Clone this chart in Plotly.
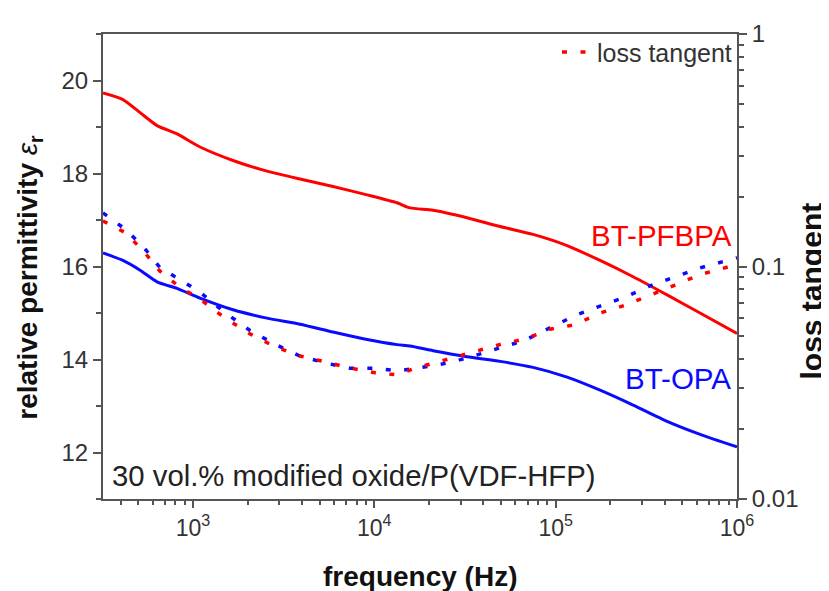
import plotly.graph_objects as go

# ---- data ----
freq_perm = [319, 411, 511, 634, 817, 1094, 1663, 2560, 3893, 5920, 9120, 13340,
             15740, 21090, 32470, 49350, 75060, 115600, 175800, 267300, 411500,
             625600, 1000000]
perm_pfbpa = [19.73, 19.59, 19.31, 19.03, 18.85, 18.57, 18.28, 18.05, 17.88, 17.72,
              17.54, 17.37, 17.26, 17.21, 17.05, 16.86, 16.69, 16.45, 16.13, 15.78,
              15.39, 15.00, 14.56]
perm_opa = [16.29, 16.13, 15.92, 15.67, 15.53, 15.32, 15.07, 14.89, 14.76, 14.59,
            14.43, 14.32, 14.29, 14.19, 14.06, 13.96, 13.83, 13.62, 13.34, 13.02,
            12.67, 12.39, 12.12]

freq_loss = [319, 422, 531, 658, 849, 1094, 1484, 2063, 2835, 3893, 5350, 7350,
             10090, 13340, 16780, 20800, 26170, 35950, 49350, 67800, 93100, 127900,
             175800, 241400, 331600, 455300, 625600, 1000000]
loss_pfbpa = [0.157, 0.140, 0.117, 0.0955, 0.0813, 0.0724, 0.0604, 0.0513, 0.0452,
              0.0412, 0.0389, 0.0366, 0.0349, 0.0342, 0.0365, 0.0383, 0.0403, 0.0431,
              0.0462, 0.0488, 0.0537, 0.0562, 0.0631, 0.0681, 0.0750, 0.0832, 0.0923,
              0.102]
loss_opa = [0.170, 0.145, 0.122, 0.0989, 0.0877, 0.0776, 0.0638, 0.0531, 0.0463,
            0.0412, 0.0385, 0.0365, 0.0365, 0.0356, 0.0364, 0.0373, 0.0386, 0.0414,
            0.0445, 0.0482, 0.0545, 0.0615, 0.0676, 0.0738, 0.0826, 0.0906, 0.0986,
            0.109]

x_tickvals = [1e3, 1e4, 1e5, 1e6]
x_ticktext = ["10<sup>3</sup>", "10<sup>4</sup>", "10<sup>5</sup>", "10<sup>6</sup>"]
y2_tickvals = [0.01, 0.1, 1]
y2_ticktext = ["0.01", "0.1", "1"]

RED = "#ff0000"
BLUE = "#0a0aff"
AX = "#555555"
TXT = "#333333"
FONT = "Liberation Sans, Arial, sans-serif"

x_minor = [m * 10 ** e for e in range(2, 6) for m in range(2, 10) if 319 <= m * 10 ** e <= 1e6]
y2_minor = [m * 10 ** e for e in (-2, -1) for m in range(2, 10)]

fig = go.Figure()
fig.add_trace(go.Scatter(x=freq_perm, y=perm_pfbpa, mode="lines",
                         line=dict(color=RED, width=3, shape="spline", smoothing=0.6),
                         showlegend=False))
fig.add_trace(go.Scatter(x=freq_perm, y=perm_opa, mode="lines",
                         line=dict(color=BLUE, width=3, shape="spline", smoothing=0.6),
                         showlegend=False))
fig.add_trace(go.Scatter(x=freq_loss, y=loss_opa, mode="lines", yaxis="y2",
                         line=dict(color=BLUE, width=3.5, dash="5px,13.5px"),
                         showlegend=False))
fig.add_trace(go.Scatter(x=freq_loss, y=loss_pfbpa, mode="lines", yaxis="y2",
                         name="loss tangent",
                         line=dict(color=RED, width=3.5, dash="5px,13.5px"),
                         showlegend=True))

# The page body has an 8px margin, so the figure is 8px smaller and the
# left/top margins 8px smaller to land on the reference's pixel positions.
fig.update_layout(
    width=821, height=583,
    margin=dict(l=95, r=92, t=20, b=92),
    paper_bgcolor="white", plot_bgcolor="white",
    font=dict(family=FONT, color=TXT),
    xaxis=dict(type="log", range=[2.504, 6.0], tickmode="array",
               tickvals=x_tickvals, ticktext=x_ticktext,
               ticks="outside", ticklen=7, tickwidth=2, tickcolor=AX,
               showline=True, linecolor=AX, linewidth=2, mirror=True,
               showgrid=False, zeroline=False,
               tickfont=dict(size=23, color=TXT, family=FONT),
               minor=dict(tickmode="array", tickvals=x_minor, ticks="outside",
                          ticklen=4, tickwidth=1.5, tickcolor=AX, showgrid=False)),
    yaxis=dict(range=[11, 21], tickmode="linear", tick0=12, dtick=2,
               ticks="outside", ticklen=8, tickwidth=2, tickcolor=AX,
               showline=True, linecolor=AX, linewidth=2,
               showgrid=False, zeroline=False,
               tickfont=dict(size=24, color=TXT, family=FONT),
               minor=dict(dtick=1, ticks="outside", ticklen=5, tickwidth=1.5,
                          tickcolor=AX, showgrid=False)),
    yaxis2=dict(type="log", range=[-2, 0], overlaying="y", side="right",
                tickmode="array", tickvals=y2_tickvals, ticktext=y2_ticktext,
                ticks="outside", ticklen=8, tickwidth=2, tickcolor=AX,
                showline=True, linecolor=AX, linewidth=2,
                showgrid=False, zeroline=False,
                tickfont=dict(size=24, color=TXT, family=FONT),
                minor=dict(tickmode="array", tickvals=y2_minor, ticks="outside",
                           ticklen=5, tickwidth=1.5, tickcolor=AX, showgrid=False)),
    legend=dict(x=1.0, xanchor="right", y=1.01, yanchor="top",
                bgcolor="rgba(0,0,0,0)", borderwidth=0,
                font=dict(size=25, color=TXT, family=FONT)),
    annotations=[
        dict(text="BT-PFBPA", xref="paper", yref="paper", x=0.996, y=0.567,
             xanchor="right", yanchor="middle", showarrow=False,
             font=dict(size=29.5, color=RED, family=FONT)),
        dict(text="BT-OPA", xref="paper", yref="paper", x=0.994, y=0.259,
             xanchor="right", yanchor="middle", showarrow=False,
             font=dict(size=29.5, color=BLUE, family=FONT)),
        dict(text="30 vol.% modified oxide/P(VDF-HFP)", xref="paper", yref="paper",
             x=0.011, y=0.05, xanchor="left", yanchor="middle", showarrow=False,
             font=dict(size=29.3, color="#222222", family=FONT)),
        dict(text="relative permittivity <span style='font-weight:normal'><i>ε</i></span><sub>r</sub>",
             xref="paper", yref="paper",
             x=-0.115, y=0.476, xanchor="center", yanchor="middle", textangle=-90,
             showarrow=False, font=dict(size=28, color="#111111", family=FONT, weight="bold")),
        dict(text="loss tangent", xref="paper", yref="paper",
             x=1.118, y=0.448, xanchor="center", yanchor="middle", textangle=-90,
             showarrow=False, font=dict(size=30, color="#111111", family=FONT, weight="bold")),
        dict(text="frequency (Hz)", xref="paper", yref="paper",
             x=0.5, y=-0.166, xanchor="center", yanchor="middle",
             showarrow=False, font=dict(size=28, color="#111111", family=FONT, weight="bold")),
    ],
)

fig.write_html("out.html")
